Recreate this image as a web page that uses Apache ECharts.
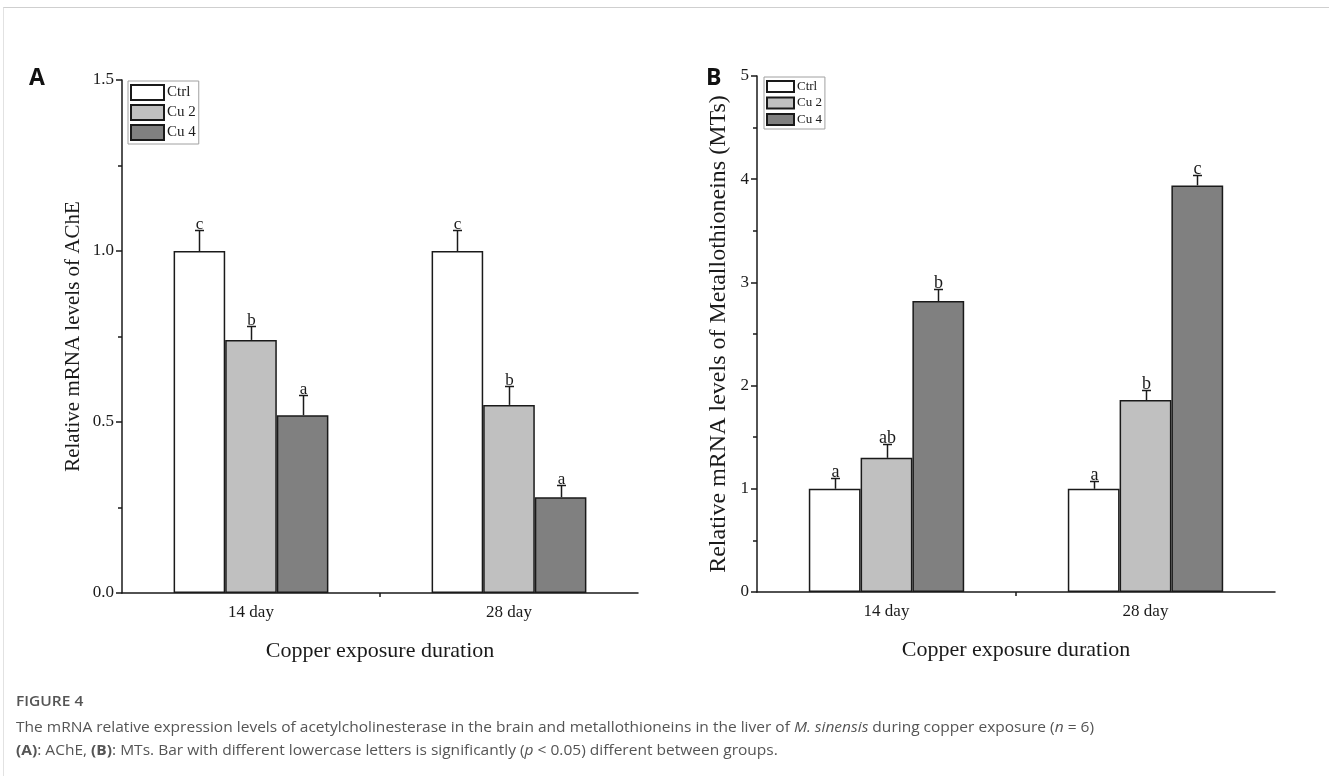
<!DOCTYPE html>
<html><head><meta charset="utf-8">
<script src="https://cdn.jsdelivr.net/npm/echarts@6/dist/echarts.min.js"></script>
<style>
html,body{margin:0;padding:0;background:#fff;width:1329px;height:776px;overflow:hidden;}
#frame{position:absolute;left:3px;top:7px;width:1326px;height:769px;border-top:1px solid #cfcfcf;border-left:1px solid #e2e2e2;box-sizing:border-box;}
#chart{position:absolute;left:0;top:0;width:1329px;height:776px;}
.cap{position:absolute;left:16px;font-family:'Open Sans',sans-serif;color:#555;white-space:nowrap;transform-origin:0 0;}
.plab{position:absolute;font-family:'Open Sans',sans-serif;font-weight:700;font-size:23px;color:#111;}
</style></head>
<body>
<div id="frame"></div>
<div id="chart"></div>
<div class="plab" style="left:29px;top:60px;">A</div>
<div class="plab" style="left:706px;top:60px;">B</div>
<div class="cap" id="c0" style="top:690px;font-size:15px;font-weight:600;">FIGURE 4</div>
<div class="cap" id="c1" style="top:716px;font-size:15px;">The mRNA relative expression levels of acetylcholinesterase in the brain and metallothioneins in the liver of <i>M. sinensis</i> during copper exposure (<i>n</i> = 6)</div>
<div class="cap" id="c2" style="top:739px;font-size:15px;"><b>(A)</b>: AChE, <b>(B)</b>: MTs. Bar with different lowercase letters is significantly (<i>p</i> &lt; 0.05) different between groups.</div>
<script>
// ---- data ----
const categories = ['14 day', '28 day'];
const groupNames = ['Ctrl', 'Cu 2', 'Cu 4'];
// Panel A: AChE
const aCtrl = [1.0, 1.0];
const aCu2 = [0.74, 0.55];
const aCu4 = [0.52, 0.28];
const aCtrlErr = [0.06, 0.06];
const aCu2Err = [0.04, 0.055];
const aCu4Err = [0.06, 0.035];
const aCtrlLetters = ['c', 'c'];
const aCu2Letters = ['b', 'b'];
const aCu4Letters = ['a', 'a'];
// Panel B: MTs
const bCtrl = [1.0, 1.0];
const bCu2 = [1.30, 1.86];
const bCu4 = [2.82, 3.94];
const bCtrlErr = [0.10, 0.075];
const bCu2Err = [0.13, 0.10];
const bCu4Err = [0.12, 0.10];
const bCtrlLetters = ['a', 'a'];
const bCu2Letters = ['ab', 'b'];
const bCu4Letters = ['b', 'c'];

// caption width fit
(function(){
  const el = document.getElementById('c1');
  const w = el.getBoundingClientRect().width;
  const s = 1078 / w;
  ['c0','c1','c2'].forEach(id => document.getElementById(id).style.transform = 'scaleX(' + s + ')');
})();

const colors = ['#ffffff', '#c0c0c0', '#808080'];
const edge = '#1a1a1a';
const serif = '"Liberation Serif", "Times New Roman", serif';

const chart = echarts.init(document.getElementById('chart'), null, {renderer: 'canvas'});

function errSeries(gi, k, means, errs, letters, fs) {
  return {
    type: 'custom', xAxisIndex: gi, yAxisIndex: gi, z: 5,
    data: means.map((m, i) => [i, m, errs[i]]),
    renderItem: function (params, api) {
      const ci = api.value(0), mean = api.value(1), err = api.value(2);
      const band = api.size([1, 0])[0];
      const off = (k - 1) * band * 0.2;
      const base = api.coord([ci, mean]);
      const top = api.coord([ci, mean + err]);
      const x = Math.round(base[0] + off) + 0.5;
      const ty = Math.round(top[1]) + 0.5;
      return {type: 'group', children: [
        {type: 'line', shape: {x1: x, y1: base[1], x2: x, y2: ty}, style: {stroke: edge, lineWidth: 1.5}},
        {type: 'line', shape: {x1: x - 4.5, y1: ty, x2: x + 4.5, y2: ty}, style: {stroke: edge, lineWidth: 1.5}},
        {type: 'text', x: x, y: ty + 3, style: {text: letters[params.dataIndex], align: 'center', verticalAlign: 'bottom', font: fs + 'px ' + serif, fill: edge}}
      ]};
    }
  };
}

function barSeries(name, k, data, gi) {
  return {
    name: name, type: 'bar', xAxisIndex: gi, yAxisIndex: gi, data: data,
    barGap: '0%', barCategoryGap: '40%',
    itemStyle: {color: colors[k], borderColor: edge, borderWidth: 1.5},
    emphasis: {disabled: true}
  };
}

function xCat(gi, fs, nfs) {
  return {
    type: 'category', gridIndex: gi, data: categories,
    axisLine: {lineStyle: {color: edge, width: 1.5}},
    axisTick: {alignWithLabel: true, length: 6, lineStyle: {color: edge, width: 1.5}},
    axisLabel: {fontFamily: serif, fontSize: fs, color: edge, margin: 11},
    name: 'Copper exposure duration', nameLocation: 'middle', nameGap: 47,
    nameTextStyle: {fontFamily: serif, fontSize: nfs, color: edge}
  };
}
function xMid(gi) {
  return {
    type: 'value', gridIndex: gi, min: 0, max: 2, position: 'bottom',
    axisLine: {show: false}, splitLine: {show: false}, axisLabel: {show: false},
    axisTick: {show: true, customValues: [1], length: 4, lineStyle: {color: edge, width: 1.5}}
  };
}
function yVal(gi, max, interval, name, fmt, fs, nfs, gap) {
  return {
    type: 'value', gridIndex: gi, min: 0, max: max, interval: interval,
    axisLine: {show: true, lineStyle: {color: edge, width: 1.5}},
    axisTick: {show: true, length: 6, lineStyle: {color: edge, width: 1.5}},
    minorTick: {show: true, splitNumber: 2, length: 4, lineStyle: {color: edge, width: 1.5}},
    splitLine: {show: false},
    axisLabel: {fontFamily: serif, fontSize: fs, color: edge, margin: 8, formatter: fmt},
    name: name, nameLocation: 'middle', nameRotate: 90, nameGap: gap,
    nameTextStyle: {fontFamily: serif, fontSize: nfs, color: edge}
  };
}

const option = {
  animation: false,
  grid: [
    {left: 122, top: 80, width: 516, height: 513},
    {left: 757, top: 76, width: 518, height: 516}
  ],
  xAxis: [xCat(0, 17, 22), xCat(1, 17, 22), xMid(0), xMid(1)],
  yAxis: [
    yVal(0, 1.5, 0.5, 'Relative mRNA levels of AChE', v => v.toFixed(1), 17, 21, 38),
    yVal(1, 5, 1, 'Relative mRNA levels of Metallothioneins (MTs)', null, 17, 24, 26)
  ],
  legend: [
    {data: groupNames, orient: 'vertical', left: 128, top: 81, icon: 'rect', itemWidth: 33, itemHeight: 15, itemGap: 3,
     padding: [3, 3, 3, 2], borderColor: '#a0a0a0', borderWidth: 1, backgroundColor: '#fff', selectedMode: false,
     textStyle: {fontFamily: serif, fontSize: 15, color: edge, padding: [0, 0, 0, -2]}},
    {data: groupNames, orient: 'vertical', left: 764, top: 77, icon: 'rect', itemWidth: 27, itemHeight: 11, itemGap: 3.5,
     padding: [3, 3, 3, 2], borderColor: '#a0a0a0', borderWidth: 1, backgroundColor: '#fff', selectedMode: false,
     textStyle: {fontFamily: serif, fontSize: 13, color: edge, padding: [0, 0, 0, -2]}}
  ],
  series: [
    barSeries('Ctrl', 0, aCtrl, 0),
    barSeries('Cu 2', 1, aCu2, 0),
    barSeries('Cu 4', 2, aCu4, 0),
    barSeries('Ctrl', 0, bCtrl, 1),
    barSeries('Cu 2', 1, bCu2, 1),
    barSeries('Cu 4', 2, bCu4, 1),
    errSeries(0, 0, aCtrl, aCtrlErr, aCtrlLetters, 17),
    errSeries(0, 1, aCu2, aCu2Err, aCu2Letters, 17),
    errSeries(0, 2, aCu4, aCu4Err, aCu4Letters, 17),
    errSeries(1, 0, bCtrl, bCtrlErr, bCtrlLetters, 18),
    errSeries(1, 1, bCu2, bCu2Err, bCu2Letters, 18),
    errSeries(1, 2, bCu4, bCu4Err, bCu4Letters, 18)
  ]
};
chart.setOption(option);
</script>
</body></html>
